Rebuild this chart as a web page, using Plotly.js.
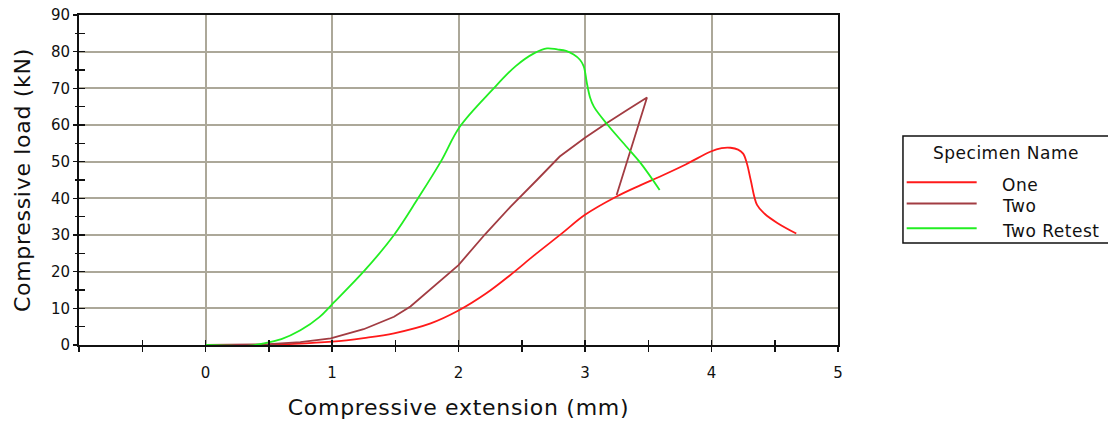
<!DOCTYPE html>
<html>
<head>
<meta charset="utf-8">
<script src="https://cdn.plot.ly/plotly-3.0.1.min.js"></script>
<style>
  html, body { margin: 0; padding: 0; background: #fff; }
  #chart { width: 1108px; height: 421px; }
  .xtitle, .ytitle { letter-spacing: 0.7px; }
  .annotation-text { letter-spacing: 0.5px; }
</style>
</head>
<body>
<div id="chart"></div>
<script>
// ---- Data ----
const seriesNames = ["One", "Two", "Two Retest"];
const seriesColors = ["#ff1a1a", "#a23c42", "#22ee22"];

const oneX = [0, 0.3, 0.5, 0.7, 1.0, 1.25, 1.49, 1.78, 2.0, 2.22, 2.41, 2.6, 2.82, 3.0, 3.25, 3.44, 3.59, 3.8, 3.99, 4.08, 4.15, 4.21, 4.25, 4.28, 4.31, 4.36, 4.42, 4.52, 4.67];
const oneY = [0, 0, 0.1, 0.3, 0.9, 1.9, 3.2, 5.9, 9.4, 14.1, 19.1, 24.5, 30.5, 35.5, 40.5, 43.6, 45.9, 49.3, 52.7, 53.7, 53.8, 53.3, 52.2, 49.5, 45, 38.2, 35.8, 33.3, 30.4];

const twoX = [0, 0.3, 0.5, 0.75, 0.99, 1.25, 1.49, 1.62, 1.8, 2.0, 2.21, 2.41, 2.62, 2.8, 3.0, 3.17, 3.33, 3.49, 3.25];
const twoY = [0, 0, 0.2, 0.8, 1.8, 4.3, 7.7, 10.5, 15.9, 21.8, 30.2, 37.7, 45, 51.4, 56.5, 60.5, 64, 67.5, 40.9];

const retestX = [0, 0.2, 0.35, 0.45, 0.6, 0.75, 0.9, 0.995, 1.26, 1.49, 1.68, 1.86, 2.01, 2.265, 2.45, 2.6, 2.7, 2.78, 2.85, 2.91, 2.96, 2.99, 3.015, 3.04, 3.07, 3.17, 3.33, 3.44, 3.59];
const retestY = [0, -0.2, -0.2, 0.4, 1.6, 4.0, 7.6, 10.9, 20.4, 30, 40, 50, 59.5, 69.5, 76, 79.6, 80.9, 80.6, 80.2, 79.2, 77.8, 76, 71.4, 67.5, 65, 60.4, 54, 49.6, 42.3];

const xTickVals = [0, 1, 2, 3, 4, 5];
const xTickText = ["0", "1", "2", "3", "4", "5"];
const yTickVals = [0, 10, 20, 30, 40, 50, 60, 70, 80, 90];
const yTickText = ["0", "10", "20", "30", "40", "50", "60", "70", "80", "90"];

const xTitle = "Compressive extension (mm)";
const yTitle = "Compressive load (kN)";
const legendTitle = "Specimen Name";

// ---- Build chart ----
const xs = [oneX, twoX, retestX];
const ys = [oneY, twoY, retestY];

const traces = seriesNames.map((n, i) => ({
  type: "scatter", mode: "lines", name: n,
  x: xs[i], y: ys[i],
  line: { color: seriesColors[i], width: 1.8, shape: "spline", smoothing: 1 },
  hoverinfo: "x+y+name"
}));
// "Two" has a sharp corner at its peak and at the unloading end
traces[1].line.shape = "linear";

const font = { family: "DejaVu Sans, Verdana, sans-serif", color: "#111" };
const gridColor = "#aca899";

// Custom legend (box, title, swatches, labels) in paper coordinates
const lgLeft = 1.0856, lgRight = 1.362, lgTop = 0.633, lgBottom = 0.309;
const swX0 = 1.0905, swX1 = 1.1827, txtX = 1.213;
const rowY = [0.493, 0.429, 0.3536];
const txtDY = -0.009;

const shapes = [
  { type: "rect", xref: "paper", yref: "paper", x0: lgLeft, x1: lgRight, y0: lgBottom, y1: lgTop,
    line: { color: "#111", width: 1.5 }, fillcolor: "rgba(0,0,0,0)" }
];
const annotations = [
  { xref: "paper", yref: "paper", x: 1.2213, y: 0.5818, text: legendTitle, showarrow: false,
    xanchor: "center", yanchor: "middle", font: Object.assign({ size: 17 }, font) }
];
seriesNames.forEach((n, i) => {
  shapes.push({ type: "line", xref: "paper", yref: "paper", x0: swX0, x1: swX1, y0: rowY[i], y1: rowY[i],
    line: { color: seriesColors[i], width: 2 } });
  annotations.push({ xref: "paper", yref: "paper", x: txtX, y: rowY[i] + txtDY, text: n, showarrow: false,
    xanchor: "left", yanchor: "middle", font: Object.assign({ size: 17 }, font) });
});

const layout = {
  width: 1108, height: 421,
  margin: { l: 79, r: 270, t: 15, b: 76, pad: 0 },
  paper_bgcolor: "#fff", plot_bgcolor: "#fff",
  showlegend: false,
  font: Object.assign({ size: 15 }, font),
  xaxis: {
    range: [-1, 5], fixedrange: true,
    tickmode: "array", tickvals: xTickVals, ticktext: xTickText,
    ticks: "outside", ticklen: 5, tickwidth: 1.5, tickcolor: "#111",
    minor: { dtick: 0.5, tick0: -1, ticks: "outside", ticklen: 5, tickwidth: 1.5, tickcolor: "#111", showgrid: false },
    showgrid: true, gridcolor: gridColor, gridwidth: 2,
    showline: true, linecolor: "#111", linewidth: 2, mirror: true,
    zeroline: false,
    tickfont: Object.assign({ size: 15 }, font),
    ticklabelstandoff: 8,
    title: { text: xTitle, font: Object.assign({ size: 22 }, font), standoff: 19 }
  },
  yaxis: {
    range: [0, 90], fixedrange: true,
    tickmode: "array", tickvals: yTickVals, ticktext: yTickText,
    ticks: "outside", ticklen: 4, tickwidth: 1.5, tickcolor: "#111",
    minor: { dtick: 5, ticks: "outside", ticklen: 2, tickwidth: 1.5, tickcolor: "#111", showgrid: false },
    showgrid: true, gridcolor: gridColor, gridwidth: 2,
    showline: true, linecolor: "#111", linewidth: 2, mirror: true,
    zeroline: false,
    tickfont: Object.assign({ size: 15 }, font),
    ticklabelstandoff: 0,
    title: { text: yTitle, font: Object.assign({ size: 22 }, font), standoff: 14 }
  },
  // overlay axes providing the inner half of the crossing tick marks
  xaxis2: {
    overlaying: "x", anchor: "y2", side: "bottom", range: [-1, 5], fixedrange: true,
    tickmode: "array", tickvals: xTickVals, showticklabels: false,
    ticks: "inside", ticklen: 5, tickwidth: 1.5, tickcolor: "#111",
    minor: { dtick: 0.5, tick0: -1, ticks: "inside", ticklen: 5, tickwidth: 1.5, tickcolor: "#111", showgrid: false },
    showgrid: false, showline: false, zeroline: false
  },
  yaxis2: {
    overlaying: "y", anchor: "x2", side: "left", range: [0, 90], fixedrange: true,
    tickmode: "array", tickvals: yTickVals, showticklabels: false,
    ticks: "inside", ticklen: 6, tickwidth: 1.5, tickcolor: "#111",
    minor: { dtick: 5, ticks: "inside", ticklen: 6, tickwidth: 1.5, tickcolor: "#111", showgrid: false },
    showgrid: false, showline: false, zeroline: false
  },
  shapes: shapes,
  annotations: annotations
};

traces.push({ type: "scatter", mode: "lines", x: [], y: [], xaxis: "x2", yaxis: "y2", showlegend: false, hoverinfo: "skip" });

Plotly.newPlot("chart", traces, layout, { displayModeBar: false, staticPlot: true });
</script>
</body>
</html>
